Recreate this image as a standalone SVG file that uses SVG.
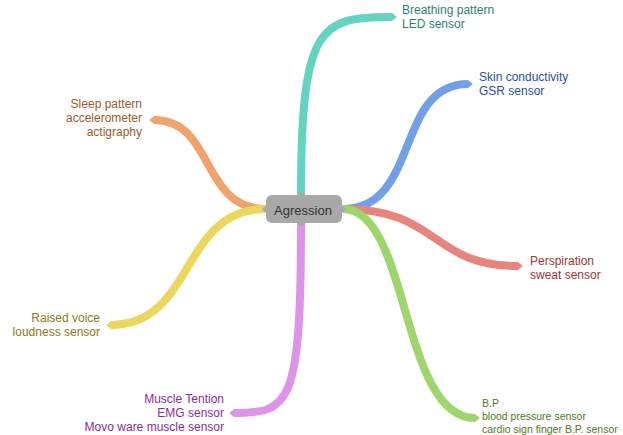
<svg xmlns="http://www.w3.org/2000/svg" width="623" height="435" viewBox="0 0 623 435">
<style>
  .br { fill: none; stroke-width: 8; stroke-linecap: butt; }
  .lbl { font-family: "Liberation Sans", Arial, sans-serif; font-size: 12px; }
  .sm { font-size: 10.5px; }
  .end { text-anchor: end; }
  .center-text { font-family: "Liberation Sans", Arial, sans-serif; font-size: 13px; fill: #333333; text-anchor: middle; }
</style>
<defs>
  <marker id="mTeal" markerUnits="strokeWidth" markerWidth="1" markerHeight="1" viewBox="0 0 10 10" refX="0" refY="5" orient="auto"><path d="M0,0 L6,5 L0,10 z" fill="#63d4c0"/></marker>
  <marker id="mBlue" markerUnits="strokeWidth" markerWidth="1" markerHeight="1" viewBox="0 0 10 10" refX="0" refY="5" orient="auto"><path d="M0,0 L6,5 L0,10 z" fill="#72a0e8"/></marker>
  <marker id="mRed" markerUnits="strokeWidth" markerWidth="1" markerHeight="1" viewBox="0 0 10 10" refX="0" refY="5" orient="auto"><path d="M0,0 L6,5 L0,10 z" fill="#e8847e"/></marker>
  <marker id="mGreen" markerUnits="strokeWidth" markerWidth="1" markerHeight="1" viewBox="0 0 10 10" refX="0" refY="5" orient="auto"><path d="M0,0 L6,5 L0,10 z" fill="#9ed66b"/></marker>
  <marker id="mOrange" markerUnits="strokeWidth" markerWidth="1" markerHeight="1" viewBox="0 0 10 10" refX="0" refY="5" orient="auto"><path d="M0,0 L6,5 L0,10 z" fill="#f0a36d"/></marker>
  <marker id="mYellow" markerUnits="strokeWidth" markerWidth="1" markerHeight="1" viewBox="0 0 10 10" refX="0" refY="5" orient="auto"><path d="M0,0 L6,5 L0,10 z" fill="#ecd75e"/></marker>
  <marker id="mPurple" markerUnits="strokeWidth" markerWidth="1" markerHeight="1" viewBox="0 0 10 10" refX="0" refY="5" orient="auto"><path d="M0,0 L6,5 L0,10 z" fill="#dc93e8"/></marker>
</defs>
<rect width="623" height="435" fill="#ffffff"/>
<g id="connectors">
  <path class="br" stroke="#63d4c0" marker-end="url(#mTeal)" d="M301,195 C301,25 320,17 392,17"/>
  <path class="br" stroke="#72a0e8" marker-end="url(#mBlue)" d="M343,209 C420,209 395,84 468,84"/>
  <path class="br" stroke="#e8847e" marker-end="url(#mRed)" d="M343,209 C440,209 430,266 518,266"/>
  <path class="br" stroke="#9ed66b" marker-end="url(#mGreen)" d="M343,209 C410,209 400,418 475,418"/>
  <path class="br" stroke="#f0a36d" marker-end="url(#mOrange)" d="M266,209 C200,209 215,120 154,120"/>
  <path class="br" stroke="#ecd75e" marker-end="url(#mYellow)" d="M266,209 C180,209 195,325 111,325"/>
  <path class="br" stroke="#dc93e8" marker-end="url(#mPurple)" d="M301,223 C301,405 290,413 234,413"/>
</g>
<g id="center">
  <rect x="266" y="195" width="76" height="28" rx="6" fill="#a8a8a8"/>
  <path d="M266,205 L262,209 L266,213 z M342,205 L346,209 L342,213 z M297,195 L301,191 L305,195 z M297,223 L301,227 L305,223 z" fill="#a8a8a8"/>
  <text class="center-text" x="303" y="215">Agression</text>
</g>
<g id="n-breathing">
  <text class="lbl" fill="#2f7f70" x="402" y="14">Breathing pattern</text>
  <text class="lbl" fill="#2f7f70" x="402" y="28">LED sensor</text>
</g>
<g id="n-skin">
  <text class="lbl" fill="#2b4f9e" x="479" y="81">Skin conductivity</text>
  <text class="lbl" fill="#2b4f9e" x="479" y="95">GSR sensor</text>
</g>
<g id="n-perspiration">
  <text class="lbl" fill="#a23434" x="530" y="265">Perspiration</text>
  <text class="lbl" fill="#a23434" x="530" y="279">sweat sensor</text>
</g>
<g id="n-bp">
  <text class="lbl sm" fill="#4b7d22" x="482" y="407">B.P</text>
  <text class="lbl sm" fill="#4b7d22" x="482" y="420">blood pressure sensor</text>
  <text class="lbl sm" fill="#4b7d22" x="482" y="433">cardio sign finger B.P. sensor</text>
</g>
<g id="n-sleep">
  <text class="lbl end" fill="#9a5a2c" x="142" y="108">Sleep pattern</text>
  <text class="lbl end" fill="#9a5a2c" x="142" y="122">accelerometer</text>
  <text class="lbl end" fill="#9a5a2c" x="142" y="136">actigraphy</text>
</g>
<g id="n-voice">
  <text class="lbl end" fill="#8a7c20" x="100" y="322">Raised voice</text>
  <text class="lbl end" fill="#8a7c20" x="100" y="336">loudness sensor</text>
</g>
<g id="n-muscle">
  <text class="lbl end" fill="#8a2c9a" x="224" y="403">Muscle Tention</text>
  <text class="lbl end" fill="#8a2c9a" x="224" y="417">EMG sensor</text>
  <text class="lbl end" fill="#8a2c9a" x="224" y="431">Movo ware muscle sensor</text>
</g>
</svg>
